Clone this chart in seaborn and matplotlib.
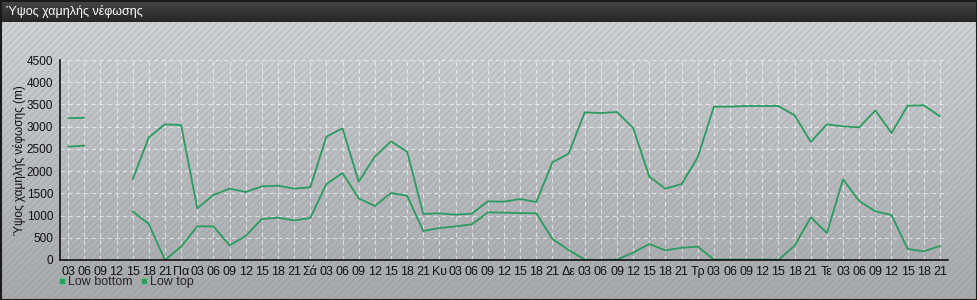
import numpy as np
import pandas as pd
import matplotlib
matplotlib.use("Agg")
import matplotlib.pyplot as plt
from matplotlib.lines import Line2D
from matplotlib.patches import Rectangle
import seaborn as sns

# ---------------- data ----------------
tick_labels = (["03", "06", "09", "12", "15", "18", "21"]
               + ["Πα", "03", "06", "09", "12", "15", "18", "21"]
               + ["Σά", "03", "06", "09", "12", "15", "18", "21"]
               + ["Κυ", "03", "06", "09", "12", "15", "18", "21"]
               + ["Δε", "03", "06", "09", "12", "15", "18", "21"]
               + ["Τρ", "03", "06", "09", "12", "15", "18", "21"]
               + ["Τε", "03", "06", "09", "12", "15", "18", "21"])

low_top = [3190, 3200, np.nan, np.nan, 1815, 2760, 3052, 3037,
           1162, 1462, 1605, 1530, 1657, 1672, 1605, 1635,
           2775, 2962, 1762, 2325, 2670, 2437, 1035, 1050,
           1020, 1042, 1320, 1312, 1372, 1305, 2197, 2392,
           3322, 3307, 3330, 2970, 1875, 1605, 1710, 2310,
           3450, 3450, 3465, 3465, 3465, 3255, 2655, 3052,
           3007, 2985, 3367, 2857, 3472, 3480, 3232]

low_bottom = [2550, 2572, np.nan, np.nan, 1095, 810, 0, 300,
              757, 757, 330, 540, 922, 952, 892, 945,
              1710, 1957, 1387, 1215, 1507, 1447, 652, 720,
              757, 802, 1072, 1065, 1057, 1050, 472, 225,
              10, 0, 10, 165, 360, 217, 275, 300,
              10, 10, 10, 10, 5, 322, 960, 607,
              1815, 1327, 1095, 1012, 247, 195, 315]

series_names = ["Low bottom", "Low top"]
title = "Ύψος χαμηλής νέφωσης"
ylabel = "Ύψος χαμηλής νέφωσης (m)"
y_ticks = [0, 500, 1000, 1500, 2000, 2500, 3000, 3500, 4000, 4500]

# ---------------- dataframe ----------------
n = len(tick_labels)
idx = np.arange(n)
segment = np.where(idx < 2, 0, 1)
df = pd.concat([
    pd.DataFrame({"x": idx, "value": low_bottom, "series": series_names[0], "seg": segment}),
    pd.DataFrame({"x": idx, "value": low_top, "series": series_names[1], "seg": segment}),
]).dropna()

green = "#2b9b60"
palette = {series_names[0]: green, series_names[1]: green}

sns.set_theme(style="white")
plt.rcParams["font.family"] = ["Liberation Sans", "DejaVu Sans"]
plt.rcParams["hatch.linewidth"] = 0.9

W, H = 978, 300
fig = plt.figure(figsize=(W / 100, H / 100), dpi=100)

# ---------------- background ----------------
bg = fig.add_axes([0, 0, 1, 1], zorder=-10)
bg.axis("off")
grad = np.linspace(0, 1, 256).reshape(-1, 1)
cmap = matplotlib.colors.LinearSegmentedColormap.from_list("bgc", ["#a8aaad", "#cfd2d6"])
bg.imshow(grad, extent=[0, W, 0, H - 22], origin="lower", cmap=cmap, aspect="auto")
bg.add_patch(Rectangle((0, 0), W, H - 22, facecolor="none",
                       edgecolor=(0.45, 0.47, 0.5, 0.22), hatch="/////", linewidth=0))
tcmap = matplotlib.colors.LinearSegmentedColormap.from_list("tc", ["#262626", "#474747"])
bg.imshow(grad, extent=[0, W, H - 22, H], origin="lower", cmap=tcmap, aspect="auto")
bg.add_patch(Rectangle((0.5, 0.5), W - 1.5, H - 1, facecolor="none", edgecolor="#1a1a1a", linewidth=1.5))
bg.set_xlim(0, W)
bg.set_ylim(0, H)
bg.text(6, H - 11, title, color="white", fontsize=9, va="center", ha="left")

# ---------------- main axes ----------------
ax = fig.add_axes([60 / W, 40 / H, 888 / W, 200 / H])
ax.patch.set_alpha(0)
sns.lineplot(data=df, x="x", y="value", hue="series", units="seg", estimator=None,
             palette=palette, linewidth=1.3, legend=False, ax=ax)

ax.set_xlim(-0.5, n - 0.5)
ax.set_ylim(0, 4500)
ax.set_xticks(idx)
ax.set_xticklabels(tick_labels, fontsize=9, color="#111111")
ax.set_yticks(y_ticks)
ax.set_yticklabels([str(v) for v in y_ticks], fontsize=8.5, color="#111111")
ax.set_xlabel("")
ax.set_ylabel(ylabel, fontsize=8.5, color="#111111")
ax.yaxis.set_label_coords(-34 / 888, 0.5)

ax.grid(True, color="white", linestyle=(0, (4, 3)), linewidth=0.8, alpha=0.6)
for s in ["top", "right"]:
    ax.spines[s].set_visible(False)
for s in ["left", "bottom"]:
    ax.spines[s].set_color("#111111")
    ax.spines[s].set_linewidth(1.2)
ax.axvline(n - 0.5, color="white", linestyle=(0, (4, 3)), linewidth=0.8, alpha=0.6)
ax.tick_params(axis="y", direction="out", length=4, width=1, color="#111111", pad=1)
ax.tick_params(axis="x", direction="inout", length=6, width=1, color="#111111", pad=1)

handles = [Line2D([], [], marker="s", linestyle="none", markersize=5,
                  markerfacecolor=green, markeredgecolor="#6fc493", markeredgewidth=0.6)
           for _ in series_names]
fig.legend(handles, series_names, loc="upper left", bbox_to_anchor=(58 / W, 1 - 276 / H),
           ncol=2, frameon=False, fontsize=9, handlelength=0.6, handletextpad=0.2,
           columnspacing=0.6, borderaxespad=0, borderpad=0)

fig.savefig("out.png", dpi=100)
